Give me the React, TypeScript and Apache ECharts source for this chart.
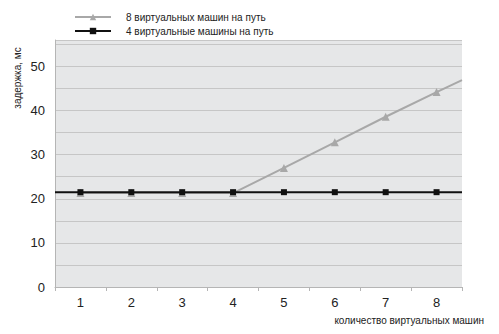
import React, { useEffect, useRef } from "react";
import * as echarts from "echarts";

const categories = ["1", "2", "3", "4", "5", "6", "7", "8"];
const xPositions = [1, 2, 3, 4, 5, 6, 7, 8];
const series8Name = "8 виртуальных машин на путь";
const series4Name = "4 виртуальные машины на путь";
const series8Values = [21.3, 21.3, 21.3, 21.3, 27.0, 32.8, 38.6, 44.2];
const series8RightEdge = 46.9;
const series4Values = [21.5, 21.5, 21.5, 21.5, 21.5, 21.5, 21.5, 21.5];
const series4LeftEdge = 21.5;
const series4RightEdge = 21.5;
const yMin = 0;
const yMax = 56;
const yStep = 5;
const yLabelStep = 10;
const xName = "количество виртуальных машин";
const yName = "задержка, мс";

const FONT = "'Liberation Sans Narrow', 'Liberation Sans', Arial, sans-serif";
const FONT2 = "'Liberation Sans', Arial, sans-serif";

export default function App() {
  const ref = useRef<HTMLDivElement>(null);
  useEffect(() => {
    if (!ref.current) return;
    const chart = echarts.init(ref.current, null, { renderer: "svg" });
    const lo = 0.5;
    const hi = categories.length + 0.5;
    const d8: any[] = xPositions.map((x, i) => [x, series8Values[i]]);
    d8.push({ value: [hi, series8RightEdge], symbol: "none" });
    const d4: any[] = [{ value: [lo, series4LeftEdge], symbol: "none" }];
    xPositions.forEach((x, i) => d4.push([x, series4Values[i]]));
    d4.push({ value: [hi, series4RightEdge], symbol: "none" });

    chart.setOption({
      animation: false,
      grid: {
        left: 55,
        right: 37,
        top: 40,
        bottom: 47,
        show: true,
        backgroundColor: "#e6e7e8",
        borderWidth: 0,
      },
      legend: {
        orient: "vertical",
        left: 74,
        top: 12,
        padding: 0,
        itemWidth: 36,
        itemHeight: 8,
        itemGap: 4,
        textStyle: {
          fontFamily: FONT2,
          fontSize: 10,
          color: "#222",
          padding: [0, 0, 0, 10],
        },
        data: [series8Name, series4Name],
      },
      xAxis: [
        {
          type: "value",
          min: lo,
          max: hi,
          show: false,
        },
        {
          type: "category",
          data: categories,
          boundaryGap: true,
          position: "bottom",
          axisLine: { show: true, lineStyle: { color: "#b5b5b5", width: 1 } },
          axisTick: { show: true, length: 4, lineStyle: { color: "#b5b5b5" } },
          axisLabel: { fontFamily: FONT, fontSize: 13, color: "#222", margin: 9 },
          splitLine: { show: false },
        },
      ],
      yAxis: {
        type: "value",
        min: yMin,
        max: yMax,
        interval: yStep,
        axisLine: { show: true, lineStyle: { color: "#b5b5b5", width: 1 } },
        axisTick: { show: false },
        axisLabel: {
          fontFamily: FONT,
          fontSize: 13,
          color: "#222",
          margin: 10,
          formatter: (v: number) => (v % yLabelStep === 0 && v <= 50 ? String(v) : ""),
        },
        splitLine: { show: true, lineStyle: { color: "#c6c6c6", width: 1 } },
      },
      graphic: [
        {
          type: "text",
          x: 484,
          y: 320,
          style: {
            text: xName,
            fontFamily: FONT2,
            fontSize: 10,
            fill: "#222",
            align: "right",
            verticalAlign: "middle",
          },
        },
        {
          type: "text",
          x: 17,
          y: 78,
          rotation: Math.PI / 2,
          style: {
            text: yName,
            fontFamily: FONT2,
            fontSize: 10,
            fill: "#222",
            align: "center",
            verticalAlign: "middle",
          },
        },
      ],
      series: [
        {
          name: series8Name,
          type: "line",
          xAxisIndex: 0,
          data: d8,
          symbol: "triangle",
          symbolSize: 8,
          showSymbol: true,
          lineStyle: { color: "#a8a8a8", width: 2 },
          itemStyle: { color: "#a8a8a8" },
          z: 2,
        },
        {
          name: series4Name,
          type: "line",
          xAxisIndex: 0,
          data: d4,
          symbol: "rect",
          symbolSize: 6,
          showSymbol: true,
          lineStyle: { color: "#111", width: 2 },
          itemStyle: { color: "#111" },
          z: 3,
        },
      ],
    });
    return () => chart.dispose();
  }, []);
  return <div ref={ref} style={{ width: 499, height: 334, margin: -8 }} />;
}
